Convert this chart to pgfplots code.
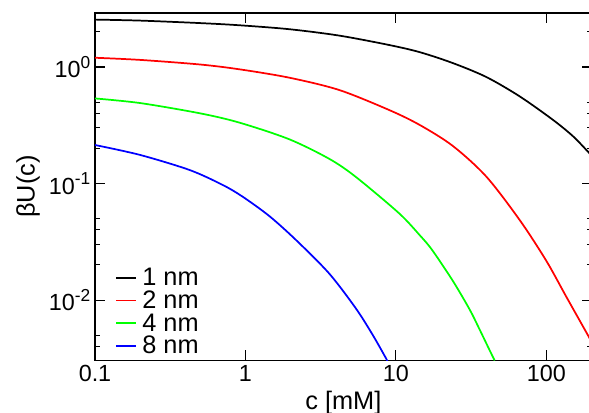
\documentclass[border=0pt]{standalone}
\usepackage{fontspec}
\setmainfont{Liberation Sans}
\usepackage{pgfplots}
\usepackage{pgfplotstable}
\pgfplotsset{compat=1.18}

% beta U(c), one table per radius
\pgfplotstableread{
c U
0.1 2.55
0.2 2.50
0.5 2.38
0.912 2.28
1.95 2.11
4.19 1.86
8.99 1.545
14.4 1.34
23.9 1.08
39.9 0.82
66.4 0.56
110.5 0.352
150 0.255
188.7 0.188
200 0.173
}\onenm
\pgfplotstableread{
c U
0.1 1.20
0.2 1.15
0.5 1.05
0.912 0.955
1.95 0.81
4.19 0.635
8.99 0.428
14.4 0.318
23.9 0.210
39.9 0.1146
66.4 0.0487
99.7 0.0218
135.5 0.0107
188.7 0.0050
200 0.00435
}\twonm
\pgfplotstableread{
c U
0.1 0.537
0.2 0.49
0.5 0.40
0.912 0.333
1.95 0.24
3.6 0.163
5.41 0.114
10.5 0.0555
14.4 0.0360
17.4 0.0269
23.9 0.0146
30.9 0.0083
35.5 0.0058
42 0.0037
45.3 0.00303
}\fournm
\pgfplotstableread{
c U
0.1 0.214
0.199 0.176
0.426 0.1305
0.707 0.0971
0.959 0.077
1.44 0.0526
2.17 0.0327
3.6 0.0169
5.41 0.0085
6.96 0.0051
8.55 0.0032
8.75 0.00300
}\eightnm

\newcommand{\sups}[1]{\raisebox{7pt}{\fontsize{13}{13}\selectfont #1}}

\begin{document}
\begin{tikzpicture}
\begin{axis}[
  name=main,
  xmode=log, ymode=log,
  scale only axis,
  width=372.5pt, height=260.85pt,
  xmin=0.1, xmax=200, ymin=0.00303, ymax=2.925,
  xtick={0.1,1,10,100}, xticklabels={0.1,1,10,100},
  ytick={0.01,0.1,1},
  yticklabels={10\sups{-2},10\sups{-1},10\sups{0}},
  /pgf/number format/assume math mode=true,
  xminorticks=false,
  minor ytick={0.004,0.005,0.02,0.03,0.04,0.05,0.2,0.3,0.4,0.5,2},
  tick align=inside, tick pos=both,
  major tick length=7.5pt, minor tick length=3.75pt,
  every tick/.style={black, line width=0.8pt},
  axis line style={line width=1.3pt},
  tick label style={font=\fontsize{17.5}{17.5}\selectfont},
  label style={font=\fontsize{19}{19}\selectfont},
  xlabel={c [mM]}, ylabel={βU(c)},
  legend cell align=left,
  legend image code/.code={\draw[#1] (0pt,0pt) -- (15pt,0pt);},
  legend style={draw=none, fill=none, at={(axis description cs:0,0)},
    anchor=south west, xshift=12pt, yshift=0pt,
    font=\fontsize{19}{19}\selectfont, row sep=0pt,
    nodes={inner ysep=1.2pt, inner xsep=4pt}},
  every axis plot/.append style={line width=1.3pt, smooth},
]
\addplot[black] table[x=c,y=U] {\onenm};
\addlegendentry{1 nm}
\addplot[red] table[x=c,y=U] {\twonm};
\addlegendentry{2 nm}
\addplot[green] table[x=c,y=U] {\fournm};
\addlegendentry{4 nm}
\addplot[blue] table[x=c,y=U] {\eightnm};
\addlegendentry{8 nm}
\end{axis}
\pgfresetboundingbox
\path[use as bounding box] ([xshift=-71.25pt,yshift=-39.4pt]main.south west)
  rectangle ([xshift=-2pt,yshift=9.5pt]main.north east);
\end{tikzpicture}
\end{document}
